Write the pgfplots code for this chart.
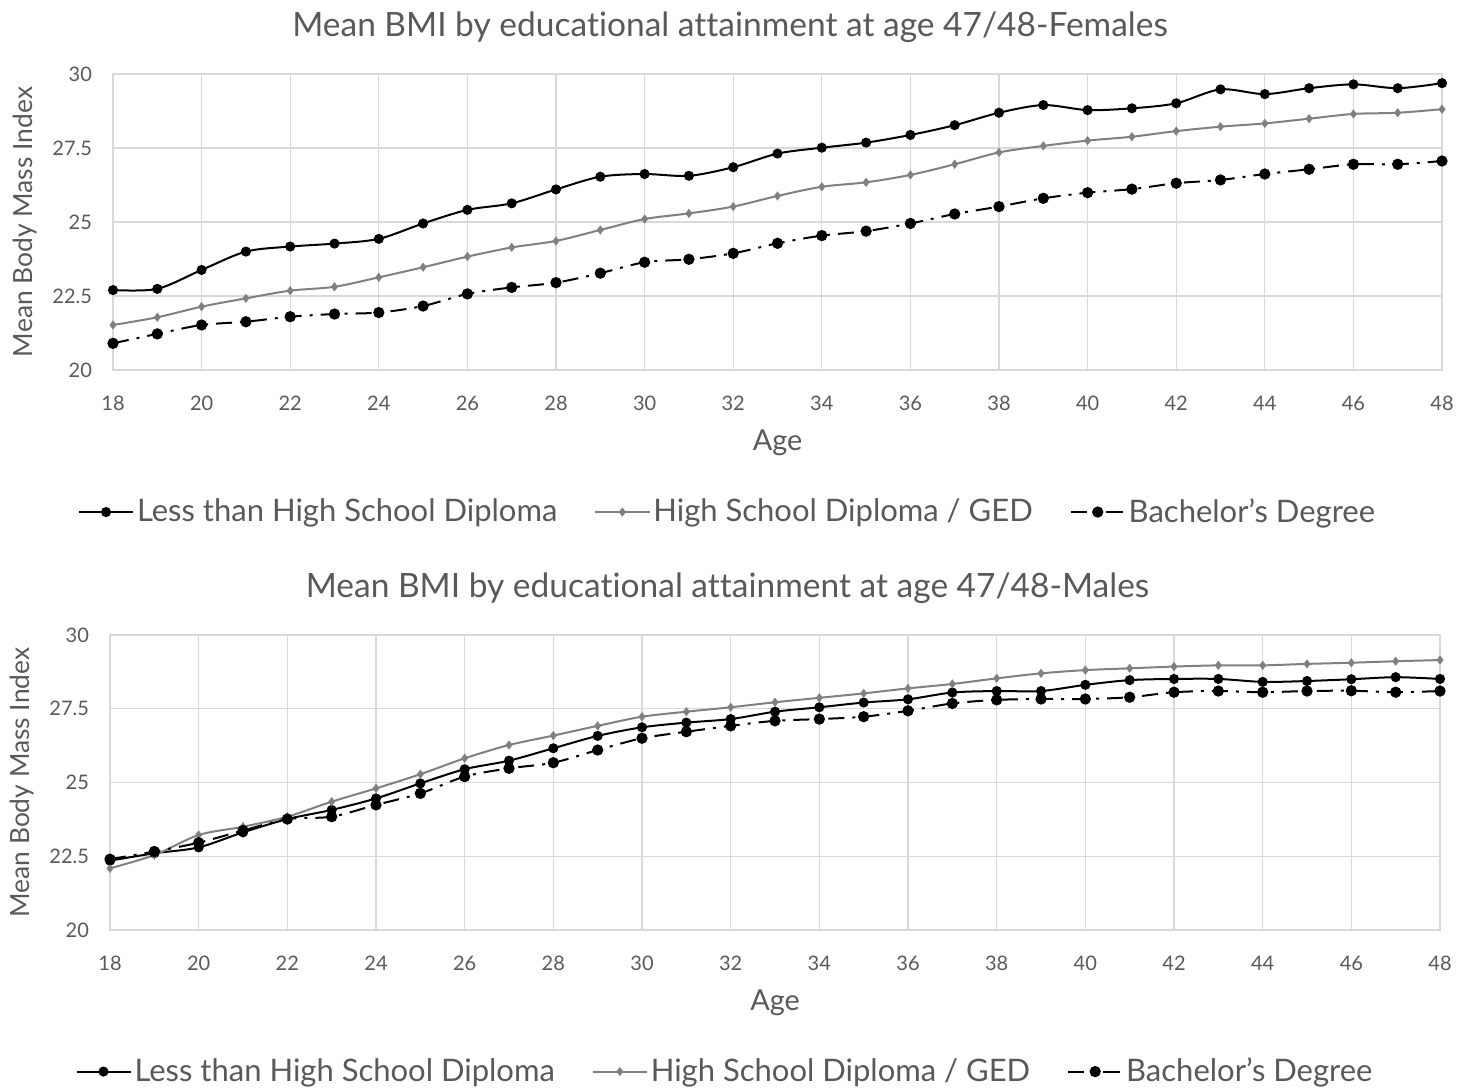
\documentclass[border=0pt]{standalone}
\usepackage{fontspec}
\setmainfont{Lato}[Ligatures=NoCommon]
\usepackage{pgfplots}
\usepackage{pgfplotstable}
\pgfplotsset{compat=1.18}
\definecolor{txt}{HTML}{595959}
\definecolor{gridc}{HTML}{D9D9D9}
\definecolor{ged}{HTML}{808080}

% age, less than HS, HS diploma / GED, bachelor's
\pgfplotstableread{
age less hs ba
18 22.70 21.52 20.90
19 22.74 21.78 21.22
20 23.38 22.14 21.52
21 24.00 22.42 21.63
22 24.17 22.68 21.80
23 24.27 22.81 21.89
24 24.43 23.13 21.94
25 24.95 23.47 22.16
26 25.41 23.83 22.57
27 25.63 24.14 22.79
28 26.10 24.36 22.95
29 26.53 24.73 23.27
30 26.62 25.10 23.64
31 26.56 25.29 23.74
32 26.85 25.52 23.94
33 27.31 25.88 24.28
34 27.51 26.19 24.54
35 27.68 26.34 24.69
36 27.94 26.59 24.95
37 28.27 26.95 25.27
38 28.69 27.35 25.52
39 28.95 27.57 25.80
40 28.78 27.75 25.99
41 28.84 27.88 26.11
42 29.01 28.07 26.31
43 29.48 28.22 26.42
44 29.32 28.33 26.62
45 29.52 28.49 26.78
46 29.65 28.65 26.95
47 29.52 28.69 26.95
48 29.69 28.81 27.06
}\females

\pgfplotstableread{
age less hs ba
18 22.35 22.09 22.40
19 22.60 22.54 22.66
20 22.80 23.22 22.96
21 23.31 23.50 23.37
22 23.76 23.84 23.76
23 24.07 24.35 23.84
24 24.46 24.80 24.24
25 24.97 25.28 24.63
26 25.45 25.82 25.20
27 25.74 26.27 25.48
28 26.16 26.59 25.67
29 26.58 26.92 26.10
30 26.87 27.23 26.50
31 27.03 27.40 26.72
32 27.15 27.55 26.92
33 27.40 27.72 27.09
34 27.55 27.87 27.15
35 27.71 28.02 27.23
36 27.82 28.19 27.43
37 28.05 28.34 27.68
38 28.10 28.53 27.80
39 28.10 28.70 27.83
40 28.31 28.81 27.83
41 28.47 28.87 27.89
42 28.51 28.93 28.06
43 28.51 28.97 28.10
44 28.41 28.97 28.06
45 28.44 29.02 28.10
46 28.50 29.06 28.11
47 28.57 29.11 28.06
48 28.51 29.15 28.10
}\males

\pgfplotsset{
  bmi/.style={
    scale only axis,
    anchor=south west,
    width=664.5pt, height=148pt,
    xmin=18, xmax=48, ymin=20, ymax=30,
    xtick={18,20,...,48},
    ytick={20,22.5,25,27.5,30},
    grid=major,
    major grid style={gridc, line width=0.6pt},
    axis line style={gridc, line width=0.6pt},
    tick style={draw=none},
    tick label style={font=\fontsize{10}{12}\selectfont, text=txt},
    /pgf/number format/assume math mode=true,
    xticklabel style={yshift=-9.5pt},
    yticklabel style={xshift=-7pt},
    title style={at={(axis description cs:0.4643,1)}, anchor=center, yshift=17.5pt,
      font=\fontsize{16.75}{20}\selectfont, text=txt},
    xlabel={Age},
    xlabel style={at={(axis description cs:0.5,0)}, anchor=center, yshift=-36.5pt,
      font=\fontsize{14.4}{17}\selectfont, text=txt},
    ylabel={Mean Body Mass Index},
    ylabel style={at={(axis description cs:-0.066,0.5)}, anchor=center, rotate=0,
      font=\fontsize{13.2}{16}\selectfont, text=txt},
    clip=false,
    legend columns=3,
    legend style={at={(axis description cs:0.4628,-0.48)}, anchor=center,
      draw=none, fill=none, font=\fontsize{15.5}{18}\selectfont, text=txt,
      /tikz/every even column/.append style={column sep=17pt},
      nodes={inner xsep=1.5pt}},
    legend image code/.code={
      \draw[mark repeat=2, mark phase=2, ##1]
        plot coordinates {(0pt,0pt) (13.5pt,0pt) (27pt,0pt)};},
  },
  less/.style={black, line width=1pt, smooth, mark=*, mark size=2pt,
    mark options={solid, fill=black}},
  hsd/.style={ged, line width=1pt, smooth, mark=diamond*, mark size=1.5pt,
    mark options={solid, fill=ged}},
  bach/.style={black, line width=1pt, smooth,
    dash pattern=on 8pt off 4pt on 1.5pt off 4pt,
    mark=*, mark size=2.3pt, mark options={solid, fill=black}},
}

\begin{document}
\begin{tikzpicture}
\path[use as bounding box] (0,0) rectangle (730pt,545pt);

\begin{axis}[bmi, at={(56.5pt,360pt)},
  title={Mean BMI by educational attainment at age 47/48-Females}]
\addplot[less] table[x=age, y=less] {\females};
\addplot[hsd] table[x=age, y=hs] {\females};
\addplot[bach] table[x=age, y=ba] {\females};
\legend{Less than High School Diploma, High School Diploma / GED, Bachelor's Degree}
\end{axis}

\begin{axis}[bmi, at={(55pt,80pt)}, width=665pt, height=147.5pt,
  title={Mean BMI by educational attainment at age 47/48-Males}]
\addplot[less] table[x=age, y=less] {\males};
\addplot[hsd] table[x=age, y=hs] {\males};
\addplot[bach] table[x=age, y=ba] {\males};
\legend{Less than High School Diploma, High School Diploma / GED, Bachelor's Degree}
\end{axis}
\end{tikzpicture}
\end{document}
